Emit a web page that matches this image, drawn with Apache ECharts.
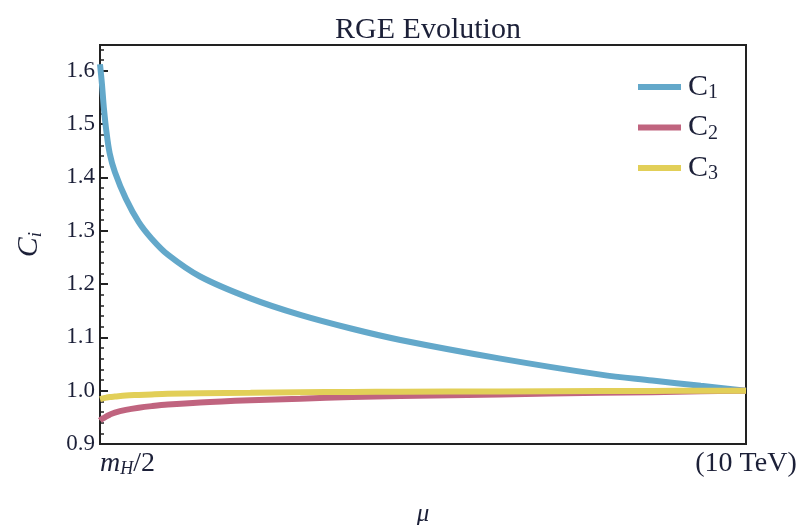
<!DOCTYPE html>
<html>
<head>
<meta charset="utf-8">
<script src="https://cdn.jsdelivr.net/npm/echarts@6/dist/echarts.min.js"></script>
<style>html,body{margin:0;padding:0;background:#fff}#chart{width:800px;height:525px}</style>
</head>
<body>
<div id="chart"></div>
<script>
// x positions: fraction of log(mu) between m_H/2 and 10 TeV
var xs = [0, 0.003, 0.006, 0.01, 0.015, 0.023, 0.04, 0.06, 0.08, 0.105, 0.155, 0.233, 0.31, 0.39, 0.465, 0.62, 0.775, 0.855, 0.93, 1];
var c1 = [1.612, 1.575, 1.53, 1.485, 1.445, 1.41, 1.36, 1.316, 1.285, 1.255, 1.214, 1.173, 1.142, 1.116, 1.095, 1.06, 1.030, 1.019, 1.009, 1.0];
var c2 = [0.944, 0.947, 0.949, 0.952, 0.955, 0.959, 0.964, 0.968, 0.971, 0.974, 0.978, 0.982, 0.985, 0.988, 0.990, 0.993, 0.996, 0.997, 0.999, 1.0];
var c3 = [0.984, 0.985, 0.986, 0.987, 0.988, 0.989, 0.991, 0.992, 0.993, 0.994, 0.995, 0.996, 0.997, 0.9975, 0.998, 0.9986, 0.9992, 0.9995, 0.9998, 1.0];
var seriesNames = ['C1', 'C2', 'C3'];
var seriesSubs = ['1', '2', '3'];
var xTickLabels = ['m_H/2', '(10 TeV)'];
var title = 'RGE Evolution';

function pairs(v) { return xs.map(function (x, i) { return [x, v[i]]; }); }
var serif = 'Liberation Serif';
var textCol = '#1c2038';
var colors = ['#63a8ca', '#c0647f', '#e2cf58'];

var chart = echarts.init(document.getElementById('chart'), null, {renderer: 'canvas'});
chart.setOption({
  animation: false,
  backgroundColor: '#fff',
  title: {
    text: title, left: 423, top: 10, textAlign: 'center',
    textStyle: {fontFamily: serif, fontSize: 30, fontWeight: 'normal', color: textCol}
  },
  legend: {
    orient: 'vertical', left: 633, top: 67, itemWidth: 43, itemHeight: 6, itemGap: 9.5,
    icon: 'rect',
    data: seriesNames,
    formatter: function (n) { return '{c|C}{s|' + seriesSubs[seriesNames.indexOf(n)] + '}'; },
    textStyle: {
      rich: {
        c: {fontFamily: serif, fontSize: 30, color: textCol, lineHeight: 32, padding: [0, 0, 0, 2]},
        s: {fontFamily: serif, fontSize: 20, color: textCol, lineHeight: 8, verticalAlign: 'bottom'}
      }
    }
  },
  grid: {left: 100, right: 54, top: 45, bottom: 81, outerBoundsMode: 'none', containLabel: false,
    show: true, borderColor: '#222', borderWidth: 2, backgroundColor: 'transparent'},
  xAxis: {
    type: 'value', min: 0, max: 1, interval: 1,
    name: '{n|μ}', nameLocation: 'middle', nameGap: 58,
    nameTextStyle: {rich: {n: {fontFamily: serif, fontStyle: 'italic', fontSize: 25, color: textCol}}},
    axisLine: {show: true, lineStyle: {color: '#222', width: 2}},
    axisTick: {show: false},
    splitLine: {show: false},
    axisLabel: {
      margin: 6, alignMinLabel: 'left', alignMaxLabel: 'center',
      formatter: function (v) {
        if (v === 0) return '{m|m}{h|H}{n|/2}';
        return '{n|' + xTickLabels[1] + '}';
      },
      rich: {
        m: {fontFamily: serif, fontStyle: 'italic', fontSize: 28, color: textCol, lineHeight: 28},
        h: {fontFamily: serif, fontStyle: 'italic', fontSize: 18, color: textCol, lineHeight: 8, verticalAlign: 'bottom'},
        n: {fontFamily: serif, fontSize: 28, color: textCol, lineHeight: 28}
      }
    }
  },
  yAxis: {
    type: 'value', min: 0.9, max: 1.648, interval: 0.1,
    name: '{c|C}{s|i}', nameLocation: 'middle', nameGap: 55, nameRotate: 90,
    nameTextStyle: {rich: {
      c: {fontFamily: serif, fontStyle: 'italic', fontSize: 30, color: textCol, lineHeight: 32},
      s: {fontFamily: serif, fontStyle: 'italic', fontSize: 19, color: textCol, lineHeight: 10, verticalAlign: 'bottom'}
    }},
    axisLine: {show: true, lineStyle: {color: '#222', width: 2}},
    axisTick: {show: true, inside: true, length: 8, lineStyle: {color: '#222', width: 2}},
    minorTick: {show: true, splitNumber: 5, length: 4, lineStyle: {color: '#222', width: 1.5}},
    splitLine: {show: false},
    minorSplitLine: {show: false},
    axisLabel: {
      margin: 5, fontFamily: serif, fontSize: 23, color: textCol,
      formatter: function (v) { return Math.abs(v - 1.648) < 1e-6 ? '' : v.toFixed(1); }
    }
  },
  series: [
    {name: 'C1', type: 'line', data: pairs(c1), smooth: 0.35, showSymbol: false, lineStyle: {color: colors[0], width: 6}, itemStyle: {color: colors[0]}},
    {name: 'C2', type: 'line', data: pairs(c2), smooth: 0.35, showSymbol: false, lineStyle: {color: colors[1], width: 6}, itemStyle: {color: colors[1]}},
    {name: 'C3', type: 'line', data: pairs(c3), smooth: 0.35, showSymbol: false, lineStyle: {color: colors[2], width: 6}, itemStyle: {color: colors[2]}}
  ]
});
</script>
</body>
</html>
